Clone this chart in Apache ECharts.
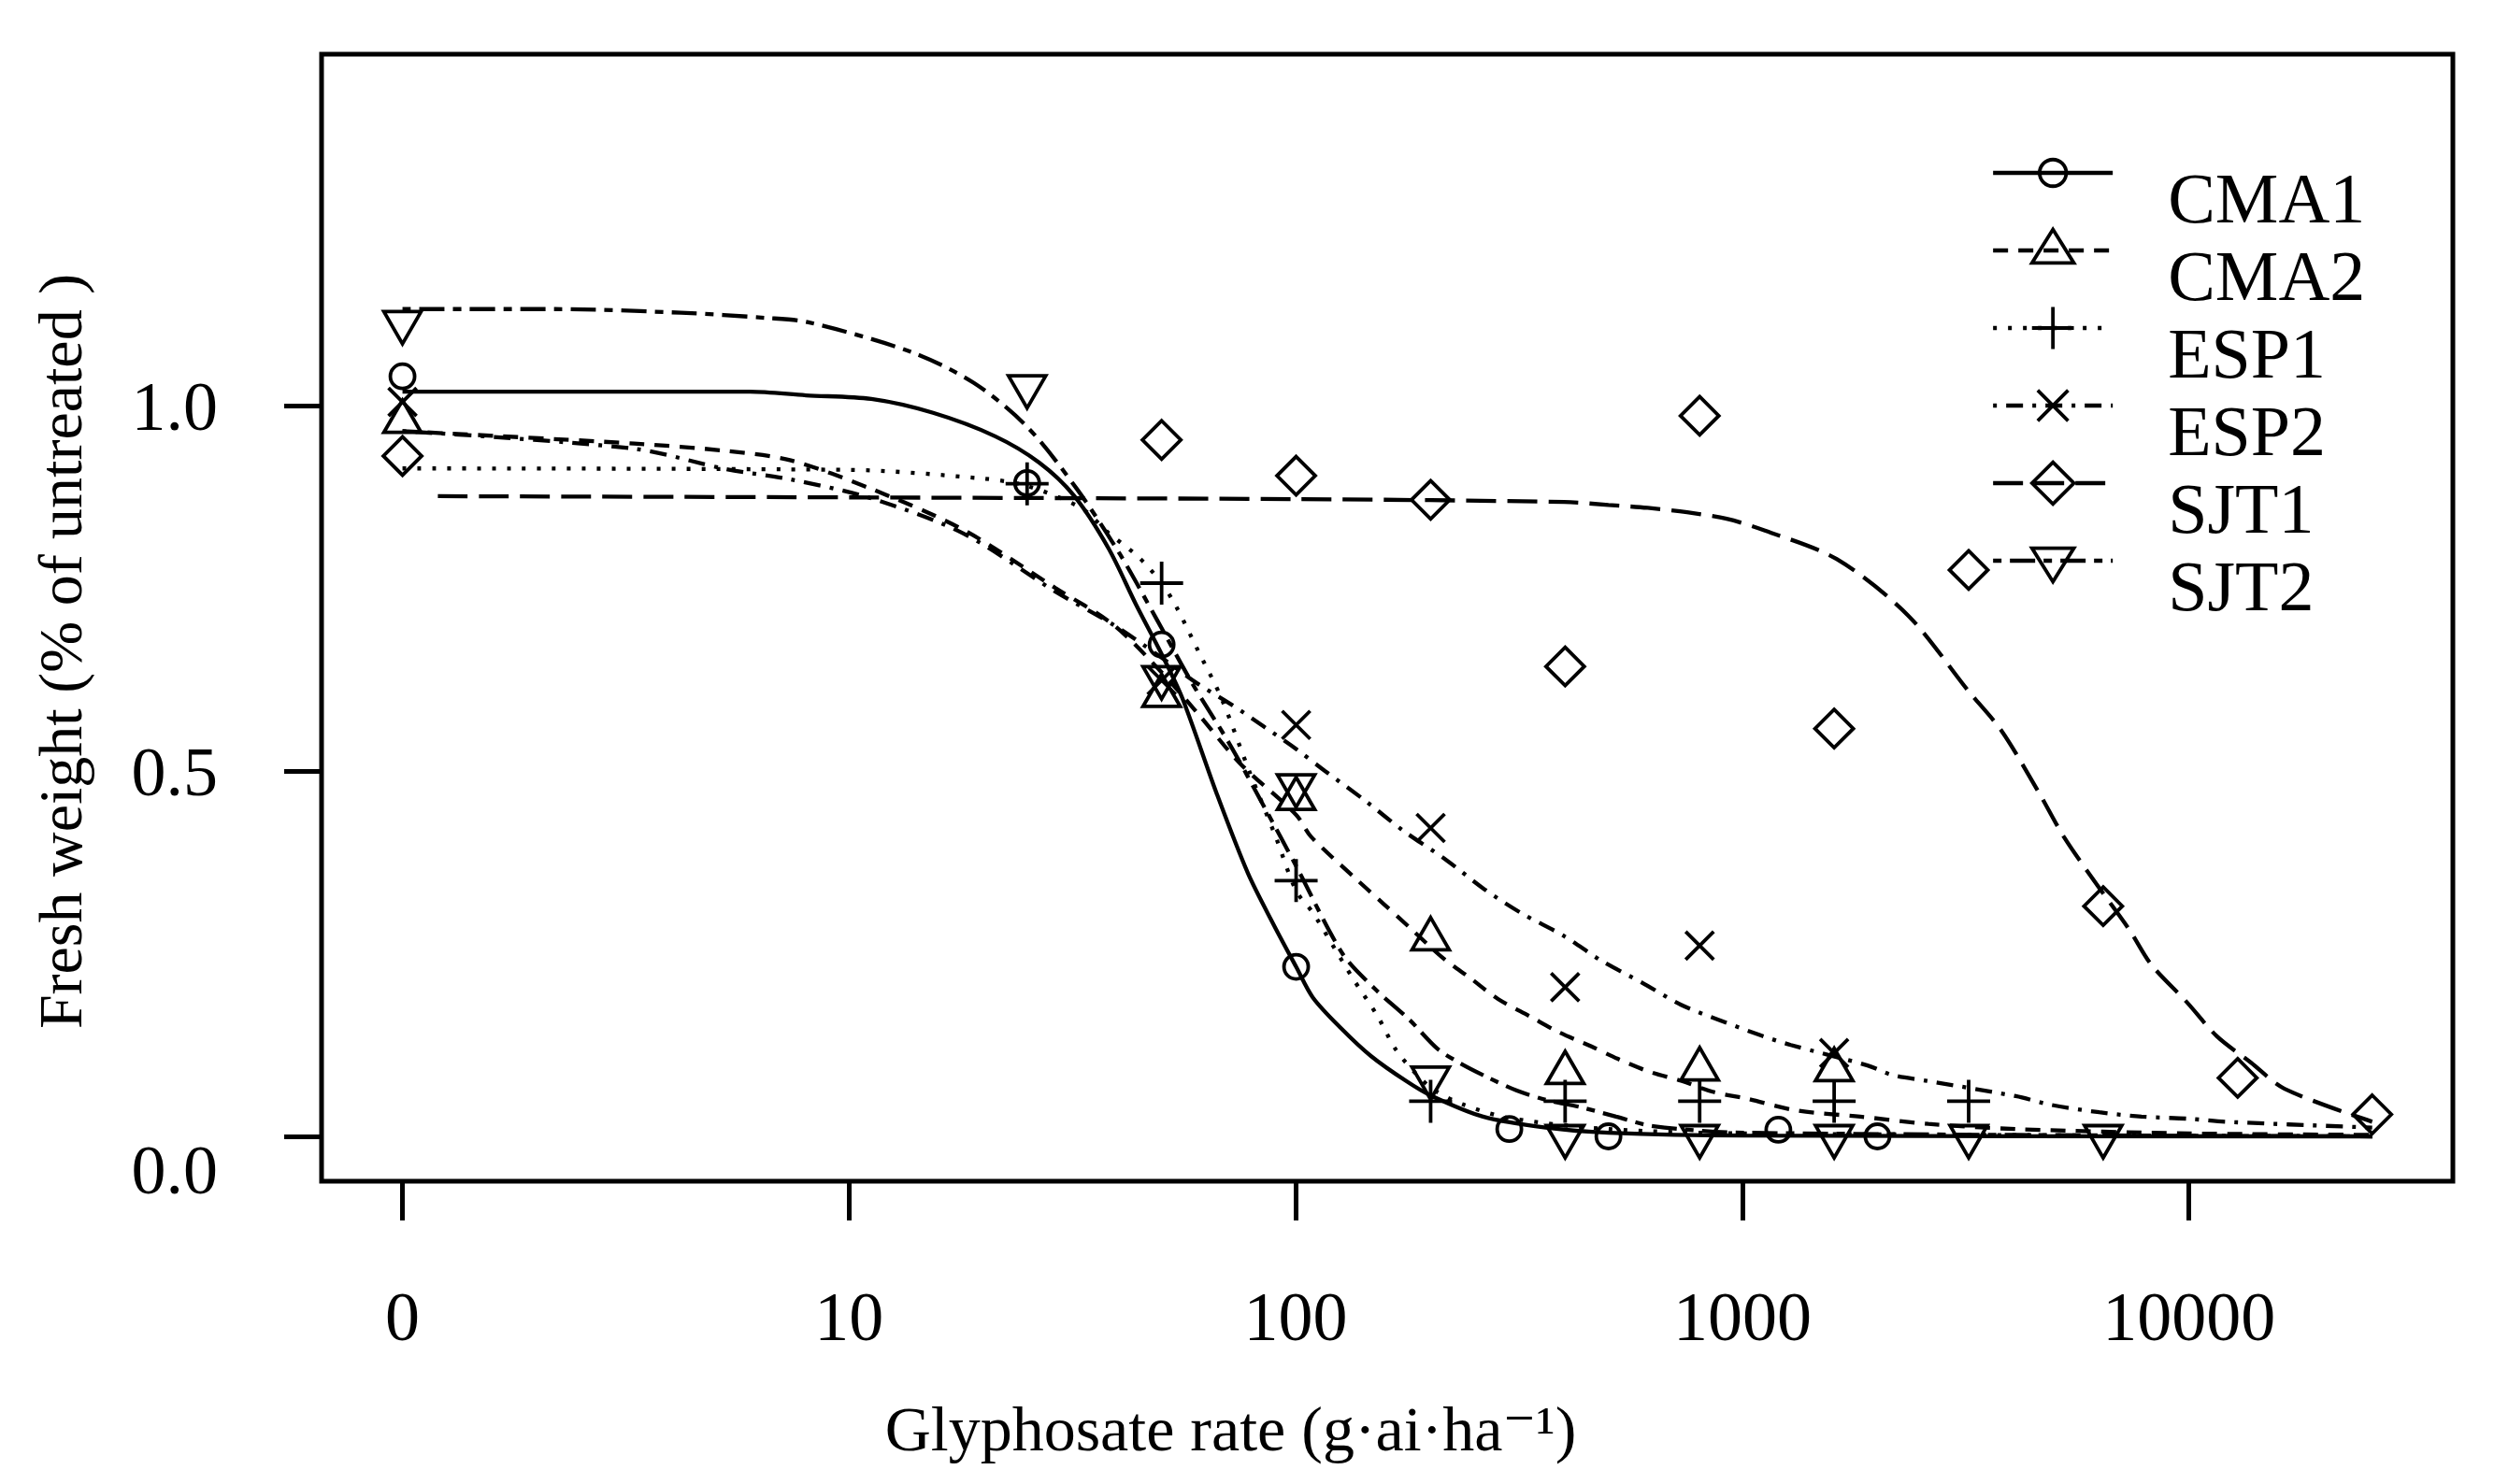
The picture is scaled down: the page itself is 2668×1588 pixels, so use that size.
<!DOCTYPE html>
<html>
<head>
<meta charset="utf-8">
<title>Fresh weight vs glyphosate rate</title>
<script src="https://cdn.jsdelivr.net/npm/echarts@6/dist/echarts.min.js"></script>
<style>
  html, body { margin: 0; padding: 0; background: #fff; }
  #chart { width: 2668px; height: 1588px; }
</style>
</head>
<body>
<div id="chart"></div>
<script>
var populations = ['CMA1', 'CMA2', 'ESP1', 'ESP2', 'SJT1', 'SJT2'];

// dose 0 (untreated) is drawn at this position of the log axis, labelled "0"
var zeroDose = 1;

// x tick values (log axis) and y tick values
var xTicks = [1, 10, 100, 1000, 10000];
var yTicks = [0, 0.5, 1.0];

// observed points: [dose (g ai/ha), fresh weight]
var cma1Points = [[0, 1.040], [25, 0.894], [50, 0.673], [100, 0.232], [300, 0.010], [500, 0.0], [1200, 0.009], [2000, 0.0]];
var cma2Points = [[0, 0.978], [50, 0.603], [100, 0.462], [200, 0.270], [400, 0.087], [800, 0.092], [1600, 0.091]];
var esp1Points = [[25, 0.893], [50, 0.757], [100, 0.350], [200, 0.048], [400, 0.048], [800, 0.048], [1600, 0.048], [3200, 0.048]];
var esp2Points = [[0, 1.005], [50, 0.624], [100, 0.563], [200, 0.422], [400, 0.204], [800, 0.261], [1600, 0.114]];
var sjt1Points = [[0, 0.931], [50, 0.953], [100, 0.904], [200, 0.871], [400, 0.643], [800, 0.986], [1600, 0.558], [3200, 0.775], [6400, 0.315], [12800, 0.080], [25600, 0.030]];
var sjt2Points = [[0, 1.114], [25, 1.026], [50, 0.628], [100, 0.480], [200, 0.080], [400, 0.0], [800, 0.0], [1600, 0.0], [3200, 0.0], [6400, 0.0]];

// fitted curves
var cma1Curve = [[1, 1.019], [6, 1.019], [8, 1.014], [11.2, 1.009], [15.4, 0.990], [21.2, 0.958], [26.6, 0.922], [31.8, 0.877], [38, 0.805], [43.8, 0.728], [50, 0.660], [55.6, 0.600], [66.5, 0.468], [78, 0.360], [89, 0.290], [100, 0.232], [109, 0.190], [126, 0.148], [147, 0.110], [176, 0.076], [200, 0.056], [262, 0.027], [362, 0.012], [500, 0.005], [1000, 0.001], [25600, 0.0]];
var cma2Curve = [[1, 0.965], [3.3, 0.948], [5.3, 0.938], [7.4, 0.925], [11.2, 0.886], [18, 0.830], [29, 0.750], [39, 0.700], [50, 0.635], [60, 0.580], [75, 0.510], [100, 0.440], [108, 0.410], [138, 0.349], [157, 0.318], [180, 0.285], [214, 0.243], [246, 0.216], [283, 0.188], [334, 0.164], [386, 0.143], [458, 0.123], [525, 0.106], [620, 0.088], [727, 0.076], [855, 0.061], [1012, 0.052], [1330, 0.035], [1830, 0.027], [2600, 0.017], [4070, 0.010], [10000, 0.004], [25600, 0.002]];
var esp1Curve = [[1, 0.914], [10, 0.912], [20, 0.900], [25, 0.890], [33, 0.860], [38, 0.826], [44.5, 0.792], [50, 0.757], [54, 0.724], [60.4, 0.664], [68, 0.600], [78.5, 0.500], [90, 0.410], [100, 0.336], [109, 0.306], [119, 0.268], [134, 0.216], [152, 0.165], [167, 0.119], [184, 0.088], [204, 0.063], [238, 0.043], [300, 0.025], [500, 0.010], [1000, 0.004], [25600, 0.0]];
var esp2Curve = [[1, 0.965], [3.3, 0.941], [5.3, 0.913], [7.4, 0.899], [11.2, 0.873], [18, 0.825], [29, 0.745], [39, 0.700], [50, 0.655], [60, 0.620], [72, 0.590], [85, 0.560], [100, 0.530], [116, 0.500], [143, 0.459], [173, 0.419], [217, 0.378], [264, 0.338], [318, 0.306], [398, 0.274], [483, 0.240], [596, 0.210], [727, 0.180], [887, 0.159], [1098, 0.138], [1280, 0.125], [1900, 0.097], [2160, 0.084], [2580, 0.076], [4080, 0.055], [4900, 0.043], [6270, 0.033], [7800, 0.027], [10000, 0.024], [12000, 0.020], [25600, 0.012]];
var sjt1Curve = [[1.2, 0.876], [100, 0.872], [398, 0.868], [500, 0.864], [612, 0.860], [750, 0.854], [920, 0.845], [1120, 0.829], [1620, 0.790], [2340, 0.713], [3200, 0.609], [3790, 0.555], [4600, 0.470], [5225, 0.410], [6220, 0.343], [7320, 0.283], [8200, 0.235], [9870, 0.183], [11500, 0.137], [13700, 0.101], [16300, 0.065], [25600, 0.020]];
var sjt2Curve = [[1, 1.132], [2.2, 1.132], [4.2, 1.127], [6.5, 1.120], [8.1, 1.114], [13.8, 1.073], [19, 1.031], [25, 0.971], [32.3, 0.886], [40.3, 0.797], [48.8, 0.707], [58.4, 0.621], [71.1, 0.536], [85, 0.450], [100, 0.370], [127, 0.250], [150, 0.202], [179, 0.160], [207, 0.120], [233, 0.100], [270, 0.080], [311, 0.063], [362, 0.050], [433, 0.040], [520, 0.027], [630, 0.014], [1000, 0.005], [25600, 0.0]];

var pointsByPop = [cma1Points, cma2Points, esp1Points, esp2Points, sjt1Points, sjt2Points];
var curvesByPop = [cma1Curve, cma2Curve, esp1Curve, esp2Curve, sjt1Curve, sjt2Curve];

var FONT = "'Liberation Serif', 'DejaVu Serif', serif";

// plot markers (centroid-centred triangles like R's pch 2 / 6)
var markSymbol = [
  'circle',
  'path://M0,-2L1.7321,1L-1.7321,1ZM0,2',
  'path://M-1,0L1,0M0,-1L0,1',
  'path://M-1,-1L1,1M-1,1L1,-1',
  'diamond',
  'path://M0,2L1.7321,-1L-1.7321,-1ZM0,-2'
];
var markSize = [26, 46, 46, 30, 41, 46];

// legend markers, square boxes so the legend does not stretch them
var legendSymbol = [
  'path://M-22,-22M22,22M14,0A14,14,0,1,1,-14,0A14,14,0,1,1,14,0Z',
  'path://M-2,-2M2,2M0,-2L2,1.2L-2,1.2Z',
  'path://M-1,0L1,0M0,-1L0,1',
  'path://M-1.1,-1.1M1.1,1.1M-0.8,-0.8L0.8,0.8M-0.8,0.8L0.8,-0.8',
  'diamond',
  'path://M-2,-2M2,2M0,2L2,-1.2L-2,-1.2Z'
];

var lineTypes = ['solid', [16, 11], [4, 12], [4, 10, 18, 10], [32, 12], [9, 9, 27, 9]];

function asLogDose(pairs) {
  return pairs.map(function (p) { return [p[0] === 0 ? zeroDose : p[0], p[1]]; });
}

var series = [];
populations.forEach(function (name, i) {
  series.push({
    name: name,
    type: 'line',
    xAxisIndex: 0,
    yAxisIndex: 0,
    data: curvesByPop[i],
    showSymbol: false,
    symbol: legendSymbol[i],
    smooth: 0.3,
    silent: true,
    z: 2,
    lineStyle: { color: '#000', width: 4.3, type: lineTypes[i] },
    itemStyle: { color: 'rgba(0,0,0,0)', borderColor: '#000', borderWidth: 3.8 },
    emphasis: { disabled: true }
  });
});
populations.forEach(function (name, i) {
  series.push({
    name: name + ' observed',
    type: 'scatter',
    xAxisIndex: 0,
    yAxisIndex: 0,
    data: asLogDose(pointsByPop[i]),
    symbol: markSymbol[i],
    symbolSize: markSize[i],
    symbolKeepAspect: true,
    silent: true,
    z: 3,
    itemStyle: { color: 'rgba(0,0,0,0)', borderColor: '#000', borderWidth: 3.8, opacity: 1 },
    emphasis: { disabled: true }
  });
});

var chart = echarts.init(document.getElementById('chart'), null, { renderer: 'canvas' });
chart.setOption({
  animation: false,
  backgroundColor: '#fff',
  grid: [
    // plot box with data
    { left: 344, top: 58, width: 2280, height: 1206, show: true, borderColor: '#000', borderWidth: 5, backgroundColor: 'rgba(0,0,0,0)' },
    // x tick axis, spans dose 1 .. 10000
    { left: 430.5, bottom: 1588 - 1264, width: 1911.2, height: 100, show: false },
    // y tick axis, spans 0 .. 1
    { left: 344, top: 434, width: 100, height: 782, show: false }
  ],
  xAxis: [
    {
      gridIndex: 0, type: 'log', logBase: 10, min: 0.659, max: 38800,
      axisLine: { show: false }, axisTick: { show: false }, axisLabel: { show: false }, splitLine: { show: false },
      name: 'Glyphosate rate (g\u00b7ai\u00b7ha\u207b\u00b9)',
      nameLocation: 'middle', nameGap: 236,
      nameTextStyle: { fontFamily: FONT, fontSize: 68, color: '#000', padding: [0, 335, 0, 0] }
    },
    {
      gridIndex: 1, type: 'log', logBase: 10, min: xTicks[0], max: xTicks[xTicks.length - 1], splitNumber: 4,
      axisLine: { show: false },
      axisTick: { show: true, inside: false, length: 42, lineStyle: { color: '#000', width: 5 } },
      axisLabel: {
        show: true, margin: 114, fontFamily: FONT, fontSize: 74, color: '#000',
        formatter: function (v) { var r = Math.round(v); return r === zeroDose ? '0' : String(r); }
      },
      splitLine: { show: false }
    },
    {
      gridIndex: 2, type: 'value', show: false
    }
  ],
  yAxis: [
    {
      gridIndex: 0, type: 'value', min: -0.0614, max: 1.4808,
      axisLine: { show: false }, axisTick: { show: false }, axisLabel: { show: false }, splitLine: { show: false },
      name: 'Fresh weight (% of untreated )',
      nameLocation: 'middle', nameGap: 241, nameRotate: 90,
      nameTextStyle: { fontFamily: FONT, fontSize: 66, color: '#000', padding: [0, 72, 0, 0] }
    },
    {
      gridIndex: 1, type: 'value', show: false
    },
    {
      gridIndex: 2, type: 'value', min: yTicks[0], max: yTicks[yTicks.length - 1], interval: 0.5,
      axisLine: { show: false },
      axisTick: { show: true, inside: false, length: 40, lineStyle: { color: '#000', width: 5 } },
      axisLabel: {
        show: true, margin: 111, fontFamily: FONT, fontSize: 74, color: '#000',
        formatter: function (v) { return v === 0 ? '{low|0.0}' : '{mid|' + v.toFixed(1) + '}'; },
        rich: {
          low: { fontFamily: FONT, fontSize: 74, color: '#000', padding: [84, 0, 0, 0] },
          mid: { fontFamily: FONT, fontSize: 74, color: '#000', padding: [14, 0, 0, 0] }
        }
      },
      splitLine: { show: false }
    }
  ],
  legend: {
    data: populations,
    orient: 'vertical',
    left: 2130,
    top: 114,
    padding: 0,
    itemGap: -59,
    itemWidth: 128,
    itemHeight: 56,
    selectedMode: false,
    lineStyle: { width: 4.3 },
    itemStyle: { borderWidth: 3.8 },
    formatter: function (name) { return '{n|' + name + '}'; },
    textStyle: {
      fontFamily: FONT, fontSize: 76, color: '#000',
      rich: { n: { fontFamily: FONT, fontSize: 76, color: '#000', lineHeight: 16, padding: [66, 0, 0, 54] } }
    }
  },
  series: series
});
</script>
</body>
</html>
